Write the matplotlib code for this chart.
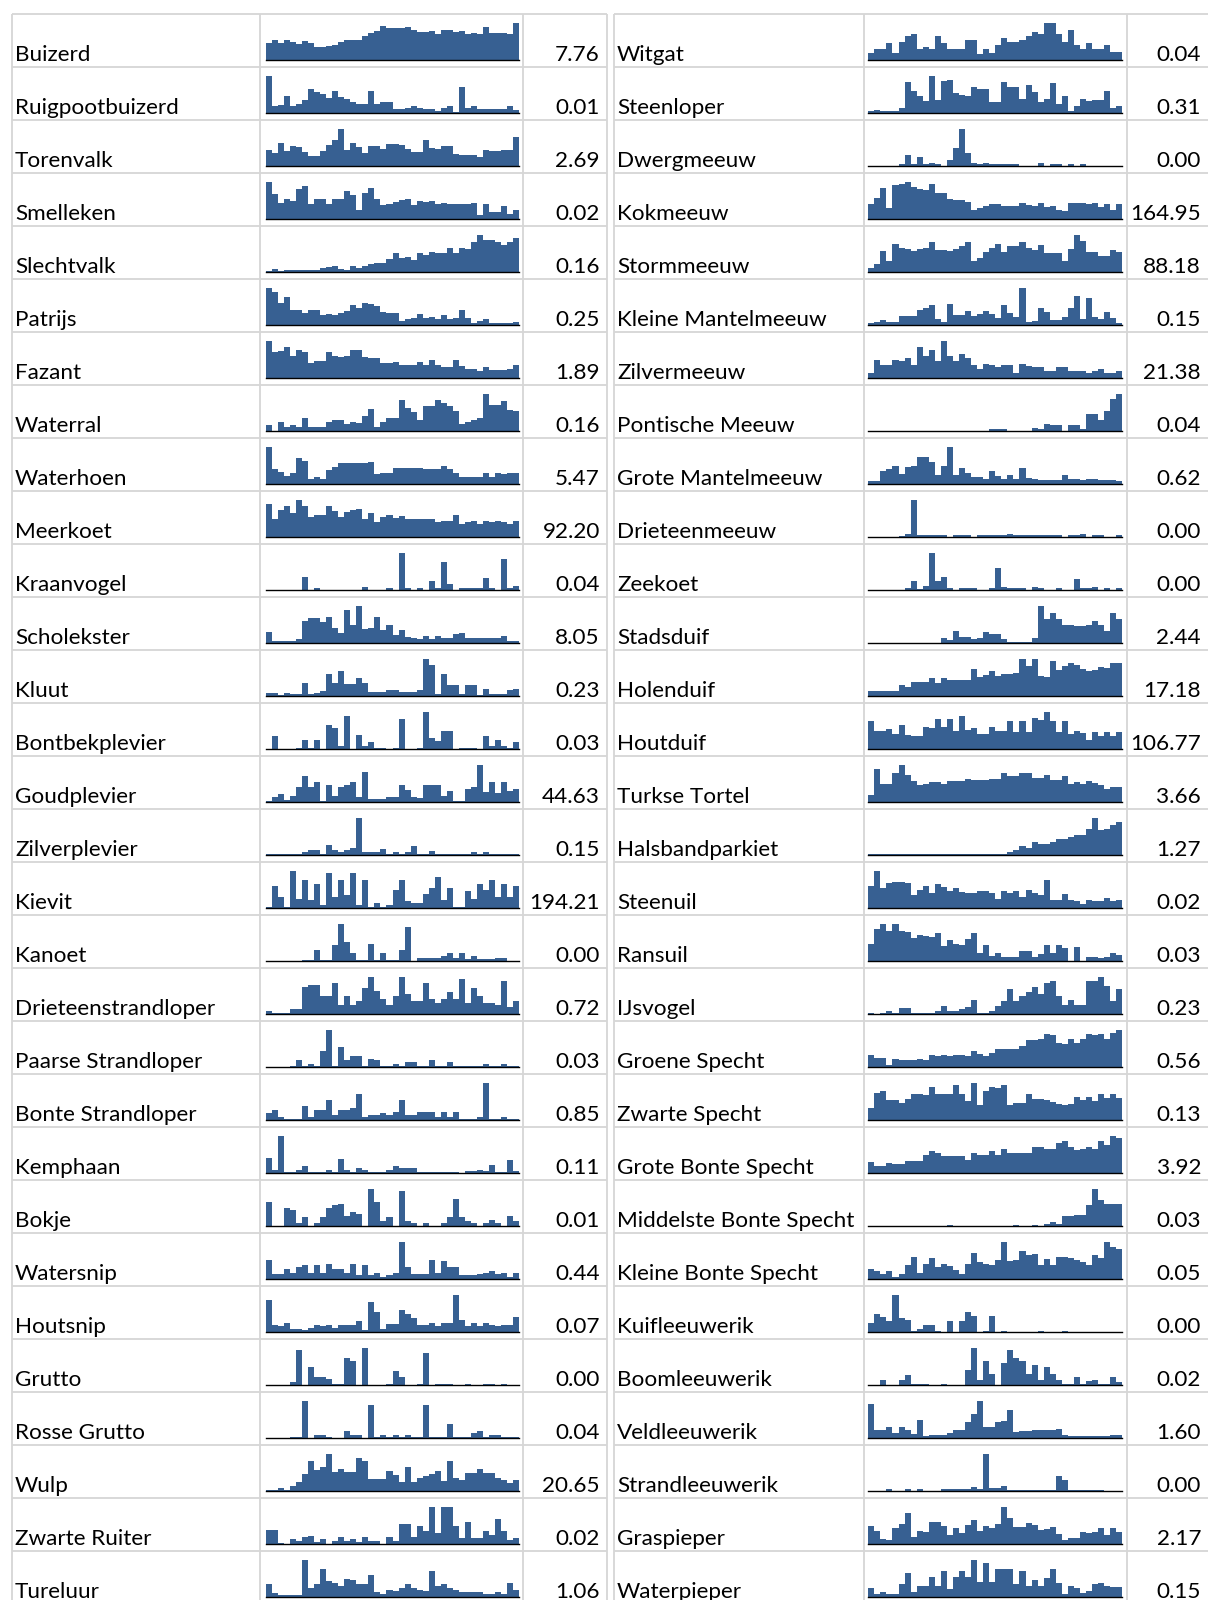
import numpy as np
import matplotlib
matplotlib.use("Agg")
import matplotlib.pyplot as plt

plt.rcParams["font.family"] = ["Lato", "DejaVu Sans"]

W, H = 1208, 1600

names_left = ["Buizerd", "Ruigpootbuizerd", "Torenvalk", "Smelleken", "Slechtvalk",
              "Patrijs", "Fazant", "Waterral", "Waterhoen", "Meerkoet", "Kraanvogel",
              "Scholekster", "Kluut", "Bontbekplevier", "Goudplevier", "Zilverplevier",
              "Kievit", "Kanoet", "Drieteenstrandloper", "Paarse Strandloper",
              "Bonte Strandloper", "Kemphaan", "Bokje", "Watersnip", "Houtsnip",
              "Grutto", "Rosse Grutto", "Wulp", "Zwarte Ruiter", "Tureluur"]
values_left = ["7.76", "0.01", "2.69", "0.02", "0.16", "0.25", "1.89", "0.16", "5.47",
               "92.20", "0.04", "8.05", "0.23", "0.03", "44.63", "0.15", "194.21",
               "0.00", "0.72", "0.03", "0.85", "0.11", "0.01", "0.44", "0.07", "0.00",
               "0.04", "20.65", "0.02", "1.06"]

names_right = ["Witgat", "Steenloper", "Dwergmeeuw", "Kokmeeuw", "Stormmeeuw",
               "Kleine Mantelmeeuw", "Zilvermeeuw", "Pontische Meeuw",
               "Grote Mantelmeeuw", "Drieteenmeeuw", "Zeekoet", "Stadsduif",
               "Holenduif", "Houtduif", "Turkse Tortel", "Halsbandparkiet", "Steenuil",
               "Ransuil", "IJsvogel", "Groene Specht", "Zwarte Specht",
               "Grote Bonte Specht", "Middelste Bonte Specht", "Kleine Bonte Specht",
               "Kuifleeuwerik", "Boomleeuwerik", "Veldleeuwerik", "Strandleeuwerik",
               "Graspieper", "Waterpieper"]
values_right = ["0.04", "0.31", "0.00", "164.95", "88.18", "0.15", "21.38", "0.04",
                "0.62", "0.00", "0.00", "2.44", "17.18", "106.77", "3.66", "1.27",
                "0.02", "0.03", "0.23", "0.56", "0.13", "3.92", "0.03", "0.05", "0.00",
                "0.02", "1.60", "0.00", "2.17", "0.15"]

# sparkline series (relative counts per period), one list per bird
spark_left = [
    [50,60,50,62,53,47,58,50,40,40,42,44,55,60,62,62,72,82,88,104,97,98,98,100,90,85,85,88,80,92,92,85,88,80,83,78,100,83,83,83,78,112],
    [110,20,23,50,21,26,38,70,63,56,46,65,48,43,33,26,26,65,28,32,32,11,11,16,20,16,11,11,7,16,20,4,76,16,20,11,11,11,11,11,20,8],
    [48,38,69,44,58,56,41,28,28,44,61,76,109,48,69,56,38,59,59,51,64,64,61,51,41,41,76,54,51,58,58,36,31,31,31,26,46,43,43,48,48,86],
    [110,73,49,58,54,88,98,46,60,60,46,60,60,83,71,28,76,93,58,41,46,51,56,58,41,54,51,54,46,49,44,44,44,44,48,11,44,22,22,38,16,26],
    [2,8,2,6,6,6,6,6,6,11,14,18,8,6,18,13,18,24,28,26,38,56,41,46,36,56,51,61,58,58,73,58,71,68,91,111,96,96,91,81,91,101],
    [112,100,67,85,45,45,35,45,45,30,33,30,37,42,62,52,67,63,57,40,35,35,12,17,20,33,20,23,18,29,17,20,45,20,7,13,17,5,5,5,5,10],
    [110,78,80,93,66,82,78,46,50,50,76,66,62,66,82,82,63,60,58,46,46,48,40,38,38,48,40,55,40,33,33,55,36,26,26,21,32,23,23,23,28,38],
    [18,0,26,12,18,12,38,12,12,12,26,32,32,20,26,24,46,66,13,26,40,40,93,68,56,34,74,74,93,83,76,60,20,28,33,40,111,78,78,90,63,60],
    [108,44,36,23,33,76,66,14,21,16,40,49,61,61,61,61,61,64,28,32,32,48,48,48,48,48,44,44,44,54,44,33,21,21,21,21,32,21,32,28,32,32],
    [99,56,82,94,72,112,94,62,66,66,94,79,62,76,82,84,56,72,44,62,66,58,64,56,54,54,54,54,44,49,49,66,39,44,48,39,49,44,48,44,38,48],
    [0,0,0,0,0,0,40,0,5,0,0,0,0,0,0,0,10,0,0,0,5,0,113,5,0,5,0,27,5,85,17,0,5,5,5,5,38,5,0,95,5,11],
    [34,6,6,6,6,12,69,78,78,64,79,46,32,102,56,114,44,46,79,39,56,26,39,19,14,12,22,12,22,16,16,29,32,14,14,16,16,16,16,22,6,6],
    [9,9,3,9,7,7,39,5,10,15,67,39,77,37,35,55,39,12,12,12,17,17,12,12,12,17,112,95,7,67,32,32,5,34,34,2,22,5,5,5,17,22],
    [0,38,0,0,0,3,26,3,26,0,71,61,10,98,0,43,10,21,3,3,0,3,88,0,0,3,110,33,23,55,55,0,3,3,3,0,38,10,26,8,3,21],
    [3,16,25,5,19,43,76,43,59,3,49,19,43,49,59,16,87,9,9,9,16,16,49,36,16,11,49,49,49,19,31,3,3,39,43,109,29,59,26,59,31,38],
    [2,2,2,2,2,2,8,15,15,2,30,15,10,15,20,108,10,10,10,18,2,8,2,10,25,2,2,13,2,2,2,2,2,2,8,2,8,2,2,2,2,2],
    [3,65,32,3,110,28,83,25,70,10,103,33,83,38,103,10,83,3,15,3,10,55,83,20,15,15,43,60,93,25,60,3,3,50,27,70,55,83,33,70,33,65],
    [0,0,0,0,0,0,3,3,35,3,3,48,113,58,25,3,3,53,3,25,3,3,35,103,0,8,8,8,8,15,25,8,25,5,15,5,5,5,8,8,0,0],
    [9,2,2,2,15,15,80,86,86,54,54,92,27,54,27,37,76,109,67,44,27,54,109,59,37,37,92,44,32,44,64,44,102,32,76,54,32,32,27,97,20,37],
    [0,0,0,0,4,20,4,10,4,49,110,2,60,20,32,32,2,25,20,2,4,10,4,15,15,2,2,20,2,2,15,2,2,2,2,2,10,2,2,10,2,2],
    [20,30,8,2,2,2,42,8,30,30,58,15,30,30,35,75,8,14,14,20,14,23,58,14,14,24,24,24,8,24,8,24,2,2,2,8,108,2,2,8,2,2],
    [44,10,110,2,2,10,20,2,2,2,10,2,43,10,2,15,8,2,2,2,10,20,15,15,15,2,2,2,2,2,2,2,0,5,5,10,5,25,2,2,38,5],
    [70,0,0,53,46,8,25,0,8,25,53,60,63,30,42,36,0,108,70,16,25,0,102,15,8,0,8,0,0,8,25,80,25,15,8,0,8,18,8,0,30,15],
    [60,14,14,30,20,37,42,17,42,17,47,30,30,17,47,12,42,12,17,5,12,17,114,37,14,14,14,60,17,54,37,37,12,12,12,14,20,24,14,17,5,17],
    [94,22,17,27,10,10,6,12,22,17,20,12,20,20,20,32,6,88,60,10,25,25,66,54,42,20,20,27,17,27,27,110,37,17,27,17,27,20,17,20,20,44],
    [0,0,0,0,10,102,0,52,24,24,18,2,2,80,70,0,108,0,0,0,2,42,24,0,0,2,92,0,2,2,2,0,0,2,0,0,2,2,0,2,0,0],
    [0,0,0,0,4,4,110,0,10,10,2,0,0,20,10,10,0,98,2,10,2,10,2,10,2,2,98,2,2,4,42,2,2,2,15,20,4,10,10,2,2,4],
    [4,4,10,4,15,26,50,88,62,72,110,56,65,56,56,98,88,35,35,35,60,48,28,72,28,38,45,50,60,30,88,38,34,55,55,64,55,55,38,33,24,32],
    [43,43,3,0,15,10,20,25,6,16,0,8,20,8,16,6,20,8,10,0,20,10,60,60,22,55,40,110,33,110,110,55,18,66,18,18,40,28,73,40,12,18],
    [38,13,6,6,6,6,110,28,38,83,48,43,33,55,50,38,38,66,16,10,20,18,28,38,28,20,18,78,33,38,28,21,16,16,16,16,10,10,16,10,43,20],
]

spark_right = [
    [22,32,32,50,22,55,72,77,33,38,33,72,50,33,33,33,60,60,17,32,22,45,65,55,55,60,72,82,78,110,110,77,55,88,45,33,50,33,33,45,25,25],
    [6,10,5,5,5,15,93,66,50,36,110,38,96,98,58,55,50,76,70,70,33,33,93,78,78,43,82,63,33,43,88,28,50,5,20,43,36,38,38,66,15,20],
    [0,0,0,0,0,5,32,5,27,5,10,5,0,17,55,110,39,10,5,10,5,5,5,5,5,0,0,0,10,0,5,5,0,5,0,5,0,0,0,0,0,0],
    [44,61,93,34,100,103,110,94,89,86,104,78,78,58,56,56,51,28,32,38,44,44,39,39,39,48,43,40,48,36,38,28,24,49,49,49,44,49,36,44,28,44],
    [11,24,61,34,84,71,68,63,68,71,89,66,66,63,68,76,89,34,41,59,71,84,58,78,78,89,71,66,81,56,56,56,34,68,110,93,58,58,49,49,66,60],
    [5,10,15,10,10,27,27,27,45,52,60,17,10,65,30,30,43,27,33,43,32,20,60,37,25,112,10,13,50,40,15,15,23,50,89,17,83,23,17,38,20,7],
    [15,55,38,38,55,50,60,38,93,66,82,50,110,65,50,70,60,38,28,43,38,33,38,40,16,43,36,32,32,22,22,32,32,20,20,20,16,22,26,16,16,21],
    [0,0,0,0,0,0,0,0,0,0,0,0,0,0,0,0,0,0,0,0,5,5,5,0,0,0,0,10,5,22,18,18,0,18,18,5,50,50,33,60,94,110],
    [10,10,39,44,54,28,50,54,81,81,66,26,54,109,26,48,32,21,21,16,38,24,16,26,16,48,18,14,11,11,11,11,26,16,16,11,16,16,11,11,11,8],
    [0,0,0,0,0,3,10,113,5,5,5,5,5,0,5,5,5,0,5,5,5,5,5,10,5,5,5,5,5,5,5,5,0,5,5,10,0,5,5,0,0,5],
    [0,0,0,0,0,0,5,28,3,11,113,27,39,5,0,5,5,5,0,0,5,68,10,5,5,5,0,10,5,0,0,5,0,0,33,5,5,8,0,5,0,5],
    [0,0,0,0,0,0,0,0,0,0,0,0,16,9,36,17,17,12,16,34,29,29,11,4,4,4,4,16,114,74,91,74,54,57,51,51,56,69,57,36,92,74],
    [15,15,15,15,15,34,27,42,42,42,55,39,54,49,49,49,49,83,59,63,77,62,67,67,71,112,92,112,62,59,105,79,92,99,95,83,75,79,89,85,100,100],
    [83,55,55,60,45,70,43,38,38,65,61,88,65,88,55,98,57,61,45,45,65,55,55,83,51,83,51,93,85,110,83,51,83,45,55,47,27,50,40,50,38,50],
    [21,98,54,54,86,109,81,63,49,54,59,59,54,63,63,63,69,64,64,64,69,69,86,76,76,86,86,71,71,81,64,64,76,53,59,54,63,56,49,39,44,43],
    [3,3,3,3,3,2,2,2,3,3,3,3,3,3,3,3,3,3,3,3,3,3,3,10,15,25,20,37,32,32,37,48,48,52,58,58,75,108,72,77,87,97],
    [65,110,60,75,78,78,75,40,55,65,45,70,63,52,60,48,45,45,50,50,45,28,50,45,50,34,55,45,40,82,23,23,43,25,20,12,25,20,20,30,22,25],
    [53,98,113,93,113,93,88,70,80,76,73,86,45,63,53,50,68,85,25,48,15,25,11,11,11,31,31,13,21,48,25,48,41,1,43,1,11,11,8,11,23,18],
    [4,0,4,8,4,19,19,2,2,2,2,10,24,10,10,16,20,42,4,4,10,24,37,75,37,52,64,80,59,92,97,54,27,42,27,27,97,97,109,82,37,75],
    [37,27,27,6,25,21,21,21,25,21,36,32,36,32,37,37,32,48,40,34,42,54,54,54,54,62,80,80,84,97,94,72,67,82,72,82,97,94,97,84,100,110],
    [35,78,86,58,58,50,62,75,75,72,97,75,75,75,102,75,55,108,45,85,97,92,102,45,50,50,75,62,62,58,54,48,45,48,68,58,68,55,75,65,75,63],
    [32,22,22,30,26,26,37,37,37,55,64,58,50,50,50,50,40,60,55,55,64,55,70,60,60,60,60,77,77,72,72,88,94,78,68,72,76,72,94,84,110,104],
    [0,0,0,0,0,0,0,0,0,0,0,0,0,3,0,0,0,0,0,0,0,0,0,0,3,0,0,3,0,6,13,5,30,28,31,31,60,108,76,65,65,65],
    [30,24,14,24,7,17,42,69,20,47,64,37,47,40,27,17,47,80,52,47,42,60,114,57,60,87,74,77,42,62,42,69,69,64,60,54,44,75,64,115,98,92],
    [27,54,44,32,110,42,37,4,10,20,20,4,0,32,0,32,60,49,0,4,49,0,4,0,0,0,0,0,4,0,0,0,4,0,0,0,0,0,0,0,0,0],
    [0,0,15,0,0,15,30,4,4,4,0,0,4,0,0,0,43,108,15,70,32,0,65,102,80,70,32,58,15,52,32,15,4,4,24,4,12,15,4,4,24,8],
    [100,23,23,32,15,32,23,12,55,7,10,10,10,15,25,25,48,72,110,32,32,48,52,82,17,22,22,25,23,23,23,27,10,5,5,5,5,5,5,5,10,10],
    [0,0,0,5,0,0,5,0,5,0,0,0,6,6,6,6,6,12,6,110,10,10,15,3,3,3,3,3,3,3,3,45,33,3,3,3,3,3,3,0,0,0],
    [53,38,15,11,48,58,93,21,38,36,66,66,53,28,48,33,56,70,40,53,48,60,110,76,50,50,63,56,43,46,50,30,13,18,18,36,33,36,48,26,48,36],
    [26,8,16,8,8,38,70,16,33,33,60,33,76,23,60,78,60,110,45,100,45,83,83,83,38,78,33,50,33,56,83,43,10,33,28,13,18,38,43,33,31,31],
]

bar_color = "#376092"
grid_color = "#d6d6d6"
row_h = 53.0
top0 = 14.0

fig = plt.figure(figsize=(W / 100, H / 100), dpi=100)
ax = fig.add_axes([0, 0, 1, 1])
ax.set_xlim(0, W)
ax.set_ylim(H, 0)
ax.axis("off")

# (left border, name|spark, spark|value, right border, spark x0, spark x1, value x)
panels = [
    (12, 260, 522.5, 607, 265.7, 519.3, 600, names_left, values_left, spark_left),
    (614, 864, 1126.5, 1212, 868.3, 1122.3, 1201, names_right, values_right, spark_right),
]

n_rows = len(names_left)
for xl, xa, xb, xr, sx0, sx1, vx, names, vals, sparks in panels:
    for i in range(n_rows + 1):
        y = top0 + i * row_h
        ax.plot([xl, xr], [y, y], color=grid_color, lw=1.3, solid_capstyle="butt")
    for x in (xl, xa, xb, xr):
        ax.plot([x, x], [top0, H + 5], color=grid_color, lw=1.3, solid_capstyle="butt")

    for i in range(n_rows):
        top = top0 + i * row_h
        ax.text(xl + 3, top + 47, names[i], fontsize=16.2, va="baseline", ha="left",
                color="black")
        ax.text(vx, top + 47, vals[i], fontsize=16.2, va="baseline", ha="right",
                color="black")

        data = np.array(sparks[i], dtype=float)
        base = top + 46
        hgt = 37
        sax = fig.add_axes([sx0 / W, 1 - base / H, (sx1 - sx0) / W, hgt / H])
        sax.bar(np.arange(len(data)), data, width=1.0, align="edge", color=bar_color,
                linewidth=0)
        sax.set_xlim(0, len(data))
        sax.set_ylim(0, data.max())
        sax.axhline(0, color="black", lw=1.0, clip_on=False)
        sax.axis("off")

fig.savefig("out.png", dpi=100)
